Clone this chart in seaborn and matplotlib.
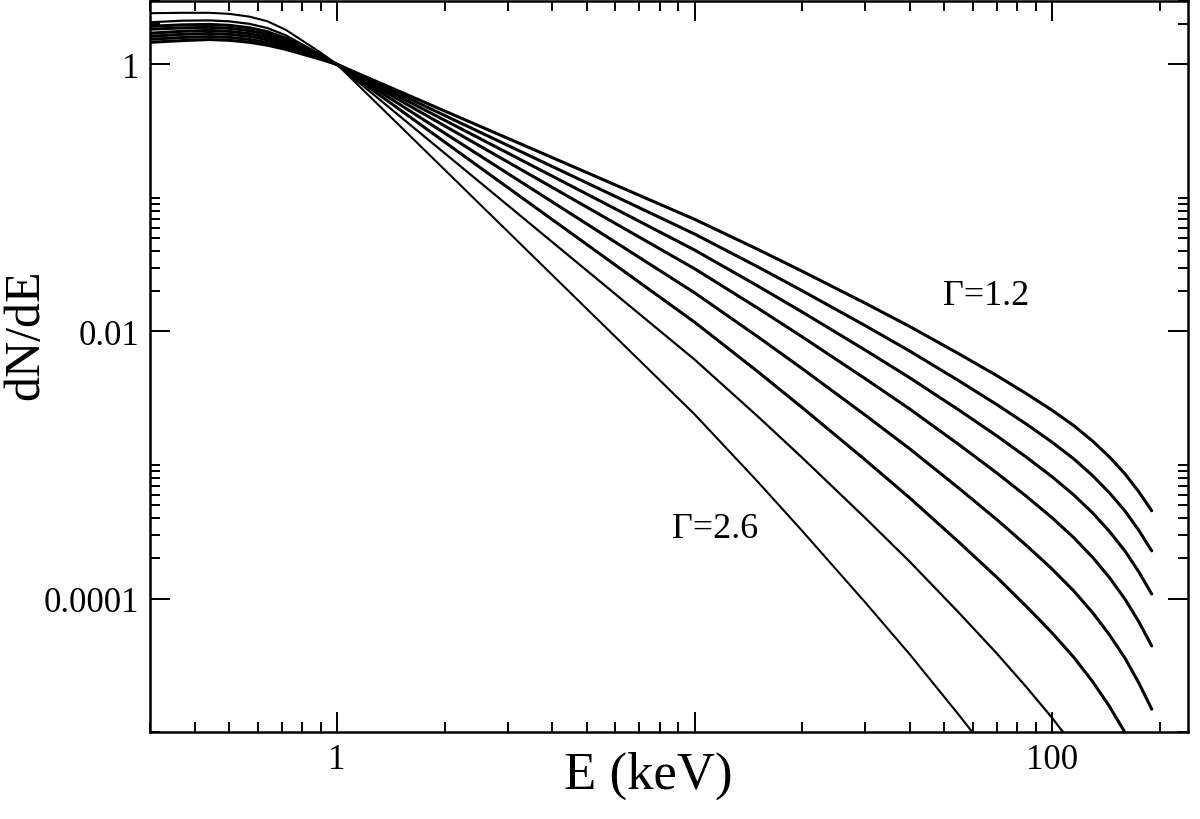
import numpy as np
import pandas as pd
import seaborn as sns
import matplotlib
matplotlib.use("Agg")
import matplotlib.pyplot as plt
from matplotlib.ticker import FixedLocator, FixedFormatter, LogLocator, NullFormatter

energy_kev = [0.3, 0.37, 0.44, 0.5, 0.57, 0.64, 0.72, 0.8, 0.9, 1,
              3, 10, 15, 20, 30, 40, 55, 70, 85, 100, 115, 130, 145, 160, 175, 190]

# log10(dN/dE), one list per photon index (nan = below the axis)
nan = np.nan
log_g12 = [0.165, 0.178, 0.186, 0.180, 0.165, 0.143, 0.112, 0.077, 0.038, 0,
           -0.553, -1.16, -1.384, -1.549, -1.788, -1.963, -2.169, -2.330, -2.468, -2.590,
           -2.705, -2.822, -2.942, -3.067, -3.202, -3.343]
log_g14 = [0.188, 0.201, 0.208, 0.202, 0.186, 0.163, 0.128, 0.088, 0.044, 0,
           -0.606, -1.27, -1.515, -1.695, -1.956, -2.147, -2.371, -2.547, -2.696, -2.829,
           -2.954, -3.081, -3.211, -3.345, -3.491, -3.643]
log_g16 = [0.210, 0.225, 0.231, 0.225, 0.209, 0.184, 0.145, 0.100, 0.049, 0,
           -0.663, -1.39, -1.658, -1.854, -2.139, -2.347, -2.590, -2.781, -2.944, -3.088,
           -3.224, -3.360, -3.500, -3.645, -3.802, -3.966]
log_g18 = [0.233, 0.248, 0.254, 0.247, 0.230, 0.204, 0.161, 0.111, 0.055, 0,
           -0.730, -1.53, -1.824, -2.040, -2.353, -2.581, -2.849, -3.059, -3.237, -3.395,
           -3.544, -3.693, -3.846, -4.005, -4.176, -4.355]
log_g20 = [0.263, 0.273, 0.277, 0.270, 0.252, 0.224, 0.178, 0.123, 0.061, 0,
           -0.816, -1.71, -2.038, -2.278, -2.626, -2.879, -3.176, -3.408, -3.605, -3.779,
           -3.943, -4.107, -4.275, -4.447, -4.634, -4.828]
log_g22 = [0.285, 0.296, 0.299, 0.292, 0.274, 0.244, 0.195, 0.134, 0.066, 0,
           -0.921, -1.93, -2.299, -2.570, -2.961, -3.247, -3.580, -3.840, -4.062, -4.257,
           -4.440, -4.624, -4.811, -5.004, -5.211, nan]
log_g24 = [0.315, 0.327, 0.329, 0.322, 0.303, 0.271, 0.217, 0.149, 0.074, 0,
           -1.054, -2.21, -2.634, -2.945, -3.396, -3.724, -4.109, -4.410, -4.667, -4.893,
           -5.105, nan, nan, nan, nan, nan]
log_g26 = [0.383, 0.386, 0.386, 0.378, 0.357, 0.322, 0.258, 0.178, 0.088, 0,
           -1.250, -2.62, -3.123, -3.493, -4.028, -4.418, -4.875, -5.233, nan, nan,
           nan, nan, nan, nan, nan, nan]

gammas = ["1.2", "1.4", "1.6", "1.8", "2.0", "2.2", "2.4", "2.6"]
curves = [log_g12, log_g14, log_g16, log_g18, log_g20, log_g22, log_g24, log_g26]
widths = [2.2, 2.2, 2.2, 2.2, 2.2, 2.2, 1.6, 1.5]

rows = []
for g, vals in zip(gammas, curves):
    for e, v in zip(energy_kev, vals):
        rows.append({"gamma": g, "E": e, "dNdE": 10 ** v})
df = pd.DataFrame(rows).dropna()

sns.set_style("ticks")
plt.rcParams["font.family"] = ["Liberation Serif", "DejaVu Serif"]
for key in ["text.color", "axes.labelcolor", "xtick.color", "ytick.color", "axes.edgecolor"]:
    plt.rcParams[key] = "black"

fig = plt.figure(figsize=(12, 8.2), dpi=100)
ax = fig.add_axes([0.125, 0.106, 0.865, 0.892])

for g, lw in zip(gammas, widths):
    sub = df[df["gamma"] == g]
    sns.lineplot(data=sub, x="E", y="dNdE", color="black", linewidth=lw,
                 estimator=None, sort=True, ax=ax)

ax.set_xscale("log")
ax.set_yscale("log")
ax.set_xlim(0.3, 240)
ax.set_ylim(1e-5, 3)

# ticks (10 keV has a tick but no label, the axis title sits there)
ax.xaxis.set_major_locator(FixedLocator([1, 10, 100]))
ax.xaxis.set_major_formatter(FixedFormatter(["1", "", "100"]))
ax.xaxis.set_minor_locator(LogLocator(base=10, subs=np.arange(2, 10)))
ax.xaxis.set_minor_formatter(NullFormatter())

ax.yaxis.set_major_locator(FixedLocator([1e-4, 1e-2, 1]))
ax.yaxis.set_major_formatter(FixedFormatter(["0.0001", "0.01", "1"]))
y_minor = [k * 10.0 ** p for p in (-6, -4, -2, 0) for k in range(2, 11)]
ax.yaxis.set_minor_locator(FixedLocator(y_minor))
ax.yaxis.set_minor_formatter(NullFormatter())

ax.tick_params(which="both", direction="in", top=True, right=True,
               width=1.4, colors="black", labelsize=25)
ax.tick_params(which="major", length=14.5, pad=8)
ax.tick_params(which="minor", length=7.2)
for s in ax.spines.values():
    s.set_linewidth(1.8)
    s.set_color("black")

ax.set_xlabel("E (keV)", fontsize=38)
ax.set_ylabel("dN/dE", fontsize=36)
ax.xaxis.set_label_coords(0.48, -0.026)
ax.yaxis.set_label_coords(-0.097, 0.545)

ax.text(49.6, 0.0185, "Γ=1.2", fontsize=26, ha="left", va="center")
ax.text(8.63, 3.35e-4, "Γ=2.6", fontsize=26, ha="left", va="center")

plt.savefig("out.png", dpi=100)
plt.close()
